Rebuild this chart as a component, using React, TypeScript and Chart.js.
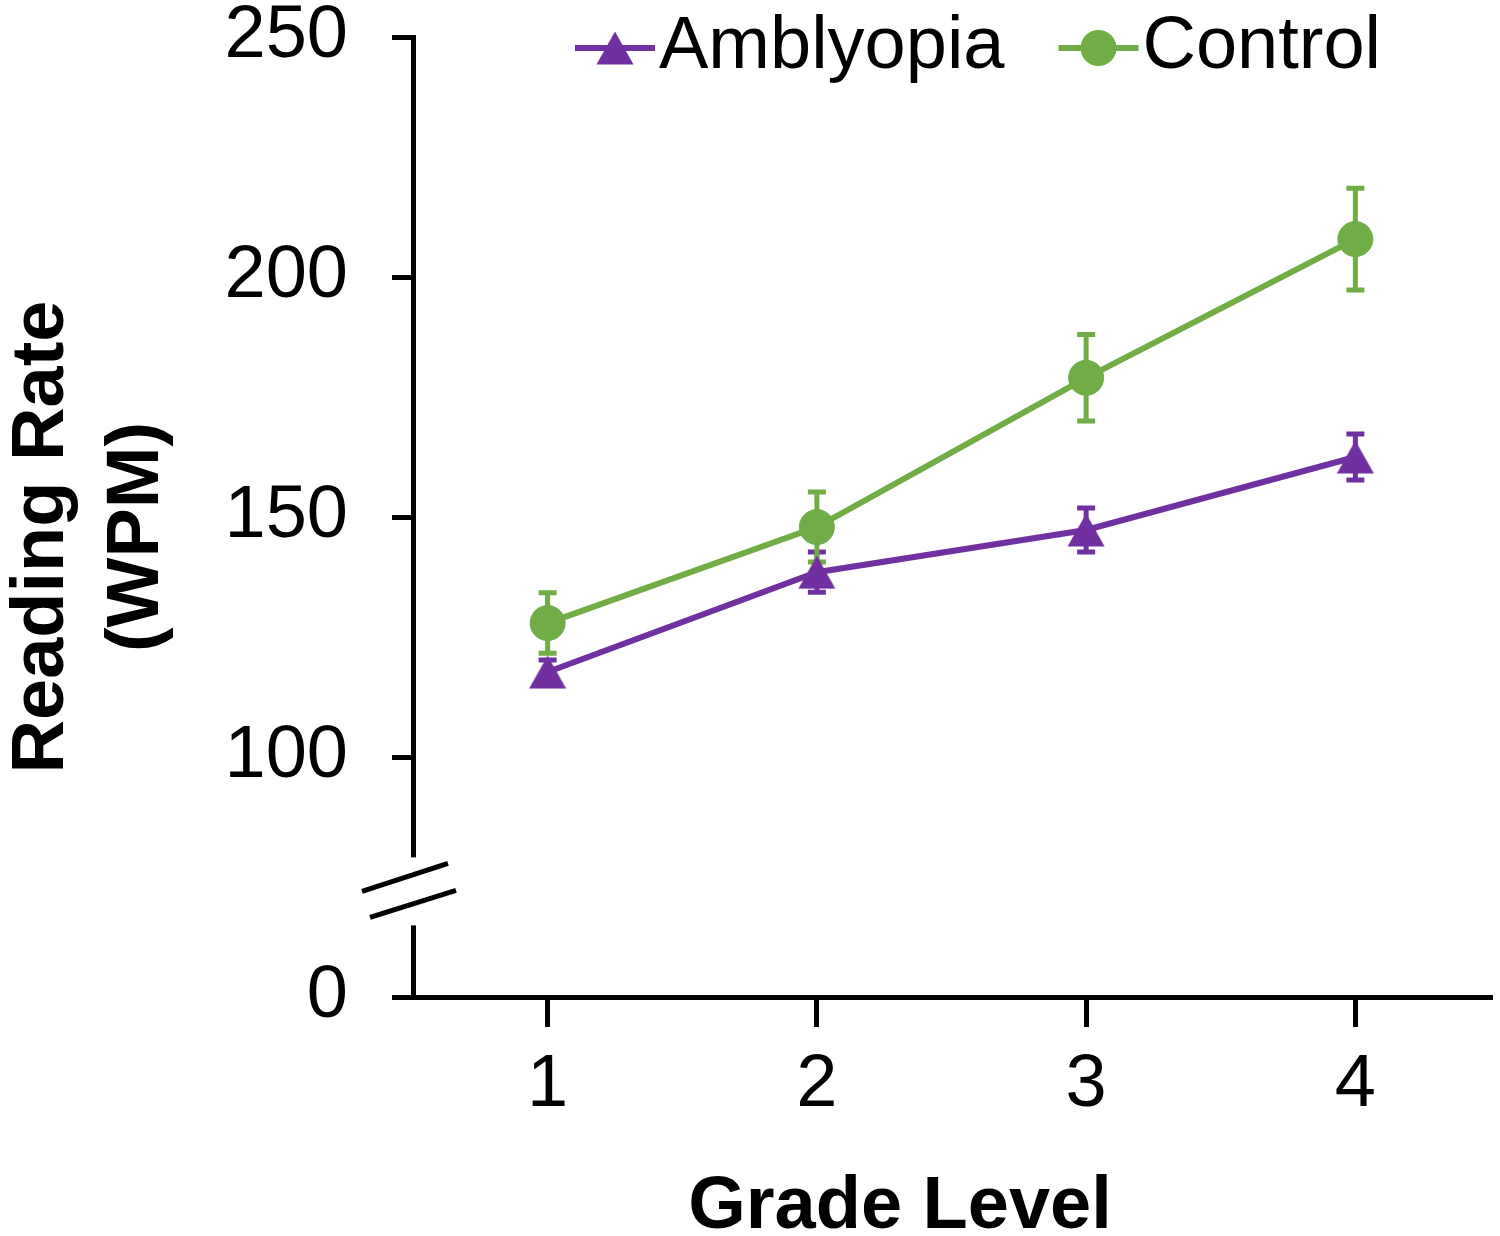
import React, { useEffect, useRef } from 'react';
import { Chart, registerables } from 'chart.js';

Chart.register(...registerables);

// ---- data ----
const grades = ['1', '2', '3', '4'];
const amblyopiaMeans = [117.7, 138.5, 147.3, 162.5];
const amblyopiaErrors = [2.5, 4.2, 4.6, 4.8];
const controlMeans = [127.9, 147.9, 179.0, 207.9];
const controlErrors = [6.3, 7.3, 9.0, 10.6];
// broken axis: the "0" tick sits where 50 would be
const yTickValues = [50, 100, 150, 200, 250];
const yTickLabels = ['0', '100', '150', '200', '250'];
const breakValue = 72;
const seriesErrors = [amblyopiaErrors, controlErrors];

const PURPLE = '#7030A0';
const GREEN = '#70AD47';
const FONT = '"Liberation Sans", Arial, Helvetica, sans-serif';

function makeTriangle(color: string): HTMLCanvasElement {
  const c = document.createElement('canvas');
  c.width = 38;
  c.height = 34;
  const g = c.getContext('2d')!;
  g.fillStyle = color;
  g.beginPath();
  g.moveTo(19, 0.5);
  g.lineTo(37.5, 33.5);
  g.lineTo(0.5, 33.5);
  g.closePath();
  g.fill();
  return c;
}

export default function App() {
  const ref = useRef<HTMLCanvasElement | null>(null);

  useEffect(() => {
    if (!ref.current) return;
    const tri = makeTriangle(PURPLE);

    const overlay = {
      id: 'overlay',
      beforeDatasetsDraw(chart: any) {
        const ctx = chart.ctx;
        const ys = chart.scales.y;
        chart.data.datasets.forEach((ds: any, di: number) => {
          const meta = chart.getDatasetMeta(di);
          ctx.save();
          ctx.strokeStyle = ds.borderColor;
          ctx.lineWidth = 5;
          meta.data.forEach((pt: any, i: number) => {
            const v = ds.data[i];
            const e = seriesErrors[di][i];
            const yt = ys.getPixelForValue(v + e);
            const yb = ys.getPixelForValue(v - e);
            ctx.beginPath();
            ctx.moveTo(pt.x, yt);
            ctx.lineTo(pt.x, yb);
            ctx.moveTo(pt.x - 9, yt);
            ctx.lineTo(pt.x + 9, yt);
            ctx.moveTo(pt.x - 9, yb);
            ctx.lineTo(pt.x + 9, yb);
            ctx.stroke();
          });
          ctx.restore();
        });
      },
      afterDraw(chart: any) {
        const ctx = chart.ctx;
        const area = chart.chartArea;
        const ys = chart.scales.y;
        ctx.save();
        // axis break
        const ax = area.left;
        const c = ys.getPixelForValue(breakValue);
        ctx.fillStyle = '#ffffff';
        ctx.fillRect(ax - 8, c - 34, 16, 68);
        ctx.strokeStyle = '#000';
        ctx.lineWidth = 5;
        ctx.beginPath();
        ctx.moveTo(ax - 51, c);
        ctx.lineTo(ax + 35, c - 28);
        ctx.moveTo(ax - 43, c + 26);
        ctx.lineTo(ax + 43, c - 1);
        ctx.stroke();

        // axis titles
        ctx.fillStyle = '#000';
        ctx.font = `bold 74px ${FONT}`;
        ctx.textAlign = 'center';
        ctx.textBaseline = 'alphabetic';
        ctx.save();
        ctx.translate(63, (area.top + area.bottom) / 2 + 20);
        ctx.rotate(-Math.PI / 2);
        ctx.fillText('Reading Rate', 0, 0);
        ctx.fillText('(WPM)', 0, 95);
        ctx.restore();
        ctx.fillText('Grade Level', 900, 1228);

        // legend
        const ds = chart.data.datasets;
        const ly = area.top + 11;
        let lx = area.left + 162;
        ctx.font = `74px ${FONT}`;
        ctx.textAlign = 'left';
        ctx.textBaseline = 'middle';
        ds.forEach((d: any, i: number) => {
          ctx.strokeStyle = d.borderColor;
          ctx.lineWidth = 6;
          ctx.beginPath();
          ctx.moveTo(lx, ly);
          ctx.lineTo(lx + 80, ly);
          ctx.stroke();
          if (i === 0) {
            ctx.drawImage(tri, lx + 40 - 19, ly - 17);
          } else {
            ctx.fillStyle = d.backgroundColor;
            ctx.beginPath();
            ctx.arc(lx + 40, ly, 18, 0, Math.PI * 2);
            ctx.fill();
          }
          ctx.fillStyle = '#000';
          ctx.fillText(d.label, lx + 84, ly);
          lx += 84 + ctx.measureText(d.label).width + 54;
        });
        ctx.restore();
      },
    };

    const chart = new Chart(ref.current, {
      type: 'line',
      data: {
        labels: grades,
        datasets: [
          {
            label: 'Amblyopia',
            data: amblyopiaMeans,
            borderColor: PURPLE,
            backgroundColor: PURPLE,
            borderWidth: 6,
            pointStyle: tri as any,
            pointRadius: 17,
            tension: 0,
          },
          {
            label: 'Control',
            data: controlMeans,
            borderColor: GREEN,
            backgroundColor: GREEN,
            borderWidth: 6,
            pointStyle: 'circle',
            pointRadius: 17.5,
            pointBorderWidth: 1,
            pointBorderColor: GREEN,
            pointBackgroundColor: GREEN,
            tension: 0,
          },
        ],
      },
      options: {
        responsive: false,
        animation: false,
        devicePixelRatio: 1,
        layout: { autoPadding: false, padding: { top: 37, right: 10, left: 0, bottom: 0 } },
        plugins: {
          legend: { display: false },
          tooltip: { enabled: false },
        },
        scales: {
          x: {
            type: 'category',
            offset: true,
            afterFit: (s: any) => {
              s.height = 239;
              s.paddingLeft = 0;
              s.paddingRight = 0;
            },
            ticks: {
              color: '#000',
              font: { family: FONT, size: 74 },
              padding: 14,
              maxRotation: 0,
              autoSkip: false,
            },
            grid: {
              display: true,
              drawOnChartArea: false,
              drawTicks: true,
              tickLength: 30,
              tickWidth: 5,
              tickColor: '#000',
              color: '#000',
              lineWidth: 5,
              offset: false,
            },
            border: { display: true, color: '#000', width: 5 },
          },
          y: {
            type: 'linear',
            min: 50,
            max: 250,
            afterBuildTicks: (s: any) => {
              s.ticks = yTickValues.map((v) => ({ value: v }));
            },
            afterFit: (s: any) => {
              s.width = 413;
              s.paddingTop = 0;
              s.paddingBottom = 0;
            },
            ticks: {
              color: '#000',
              font: { family: FONT, size: 74, lineHeight: 0.9 },
              padding: 44,
              callback: (v: any) => yTickLabels[yTickValues.indexOf(Number(v))],
            },
            grid: {
              display: true,
              drawOnChartArea: false,
              drawTicks: true,
              tickLength: 21,
              tickWidth: 5,
              tickColor: '#000',
              color: '#000',
              lineWidth: 5,
            },
            border: { display: true, color: '#000', width: 5 },
          },
        },
      },
      plugins: [overlay],
    });

    return () => chart.destroy();
  }, []);

  return (
    <div style={{ position: 'fixed', left: 0, top: 0, width: 1500, height: 1236, background: '#fff' }}>
      <canvas ref={ref} width={1500} height={1236} style={{ display: 'block' }} />
    </div>
  );
}
